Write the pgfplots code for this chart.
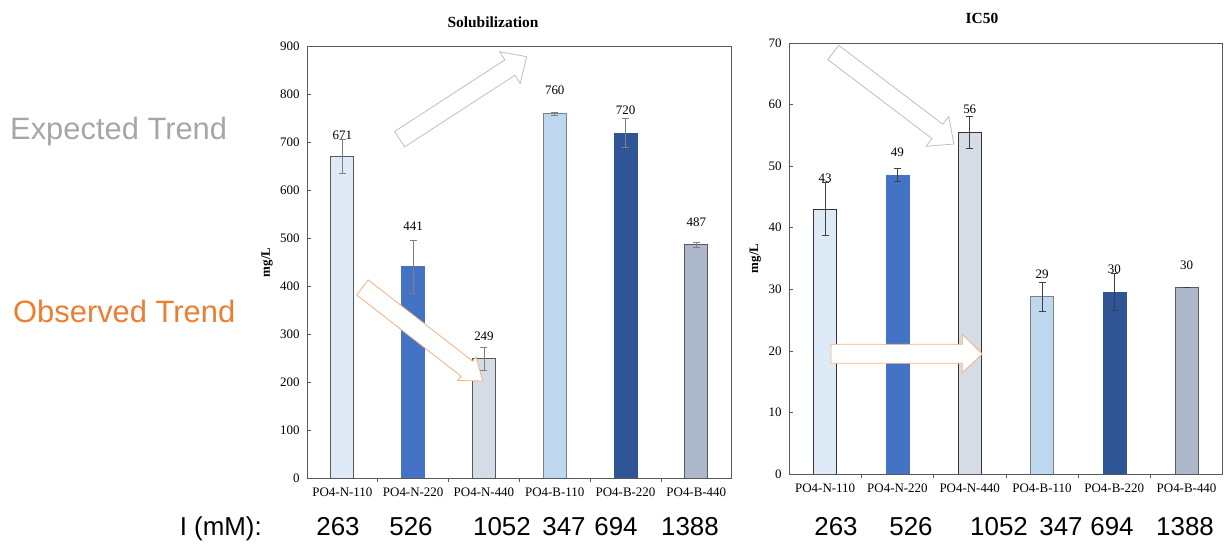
\documentclass[border=0pt]{standalone}
\usepackage{fontspec}
\setmainfont{Liberation Serif}
\newfontfamily\arial{Liberation Sans}
\usepackage{pgfplots}
\pgfplotsset{compat=1.18}
\definecolor{c1}{HTML}{DEEBF7}
\definecolor{c2}{HTML}{4472C4}
\definecolor{c3}{HTML}{D6DCE5}
\definecolor{c4}{HTML}{BDD7EE}
\definecolor{c5}{HTML}{2F5597}
\definecolor{c6}{HTML}{ADB9CA}
\definecolor{axgray}{HTML}{595959}
\definecolor{expgray}{HTML}{A6A6A6}
\definecolor{obsorange}{HTML}{ED7D31}
\definecolor{arrgray}{HTML}{BFBFBF}
\definecolor{arrorange}{HTML}{F4B183}
\tikzset{lab/.style={font=\fontsize{13}{15}\selectfont}}
\pgfplotsset{
  common/.style={
    scale only axis, anchor=south west,
    xmin=-0.5, xmax=5.5, ymin=0,
    xtick={0,...,5},
    xticklabels={PO4-N-110,PO4-N-220,PO4-N-440,PO4-B-110,PO4-B-220,PO4-B-440},
    minor xtick={0.5,1.5,2.5,3.5,4.5},
    major x tick style={draw=none},
    tick align=inside, tick pos=left,
    major tick length=4bp, minor tick length=4bp,
    tick style={draw=axgray, line width=0.6pt},
    axis line style={draw=axgray, line width=0.8pt},
    ybar, bar width=23bp, bar shift=0pt,
    /pgf/number format/assume math mode=true,
    tick label style={font=\fontsize{13}{15}\selectfont},
    y tick label style={xshift=-4bp},
    x tick label style={yshift=-2bp},
    ylabel={\textbf{mg/L}},
    title style={font=\bfseries\fontsize{15.5}{17}\selectfont, anchor=center},
  },
  eb/.style={error bars/.cd, y dir=both, y explicit,
    error bar style={draw=#1, line width=0.6pt},
    error mark options={rotate=90, draw=#1, line width=0.6pt, mark size=3.5bp}},
}
\begin{document}
\begin{tikzpicture}
\begin{scope}[shift={(0,550bp)}, x=1bp, y=-1bp]
\useasboundingbox (0,0) rectangle (1225,550);
\end{scope}

% Left chart
\begin{axis}[common,
  at={(307bp,72bp)}, width=424.7bp, height=431.3bp,
  ymax=900, ytick={0,100,...,900},
  title={Solubilization},
  title style={at={(axis description cs:0.438,1)}, yshift=18.7bp},
  every axis y label/.style={at={(axis description cs:-0.094,0.5)}, rotate=90, anchor=center, font=\fontsize{13}{15}\selectfont},
]
\addplot[fill=c1, draw=axgray, line width=0.8pt, eb=gray] coordinates {(0,671) +- (0,36)};
\addplot[fill=c2, draw=c2, eb=gray] coordinates {(1,441) +- (0,55)};
\addplot[fill=c3, draw=axgray, line width=0.8pt, eb=gray] coordinates {(2,249) +- (0,24)};
\addplot[fill=c4, draw=gray, line width=0.8pt, eb=gray] coordinates {(3,760) +- (0,4)};
\addplot[fill=c5, draw=c5, eb=gray] coordinates {(4,720) +- (0,30)};
\addplot[fill=c6, draw=axgray, line width=0.8pt, eb=gray] coordinates {(5,487) +- (0,5)};
\node[lab] at (axis cs:0,716) {671};
\node[lab] at (axis cs:1,526) {441};
\node[lab] at (axis cs:2,296) {249};
\node[lab] at (axis cs:3,809) {760};
\node[lab] at (axis cs:4,768) {720};
\node[lab] at (axis cs:5,534) {487};
\end{axis}

% Right chart
\begin{axis}[common,
  at={(789bp,76bp)}, width=433.7bp, height=431bp,
  ymax=70, ytick={0,10,...,70},
  title={IC50},
  title style={at={(axis description cs:0.445,1)}, yshift=19bp},
  every axis y label/.style={at={(axis description cs:-0.078,0.5)}, rotate=90, anchor=center, font=\fontsize{13}{15}\selectfont},
]
\addplot[fill=c1, draw=black!80, line width=0.8pt, eb=black!75] coordinates {(0,43.0) +- (0,4.3)};
\addplot[fill=c2, draw=c2, eb=black!75] coordinates {(1,48.6) +- (0,1.1)};
\addplot[fill=c3, draw=black!80, line width=0.8pt, eb=black!75] coordinates {(2,55.5) +- (0,2.65)};
\addplot[fill=c4, draw=gray, line width=0.8pt, eb=black!75] coordinates {(3,28.8) +- (0,2.4)};
\addplot[fill=c5, draw=c5, eb=black!75] coordinates {(4,29.6) +- (0,2.95)};
\addplot[fill=c6, draw=axgray, line width=0.8pt, eb=black!75] coordinates {(5,30.3) +- (0,0.05)};
\node[lab] at (axis cs:0,48.0) {43};
\node[lab] at (axis cs:1,52.2) {49};
\node[lab] at (axis cs:2,59.3) {56};
\node[lab] at (axis cs:3,32.5) {29};
\node[lab] at (axis cs:4,33.3) {30};
\node[lab] at (axis cs:5,33.9) {30};
\end{axis}

\begin{scope}[shift={(0,550bp)}, x=1bp, y=-1bp]
% arrows
\draw[arrgray, fill=white, line width=0.8pt, line join=miter]
  (404.6,146.9) -- (514.9,75.3) -- (520.2,83.5) -- (526.7,56.7) -- (499.6,51.7) -- (504.9,59.9) -- (394.6,131.5) -- cycle;
\draw[arrorange, fill=white, line width=0.8pt, line join=miter]
  (368.3,280.0) -- (472.7,361.2) -- (476.1,356.9) -- (482.7,381) -- (457.7,380.5) -- (461.1,376.2) -- (356.7,295.0) -- cycle;
\draw[arrgray, fill=white, line width=0.8pt, line join=miter]
  (838.7,45.3) -- (942.8,124.2) -- (948.7,116.5) -- (954,144) -- (926.1,146.3) -- (932,138.6) -- (827.9,59.7) -- cycle;
\draw[arrorange, fill=white, line width=0.8pt, line join=miter]
  (831,344.3) -- (962.3,344.3) -- (962.3,334.3) -- (982.3,354) -- (962.3,372.7) -- (962.3,363.3) -- (831,363.3) -- cycle;

% side texts
\node[anchor=base west, inner sep=0, text=expgray, font=\arial\fontsize{31}{36}\selectfont] at (10,140) {Expected Trend};
\node[anchor=base west, inner sep=0, text=obsorange, font=\arial\fontsize{31}{36}\selectfont] at (13,323) {Observed Trend};

% bottom row
\begin{scope}[every node/.style={anchor=base, inner sep=0, font=\arial\fontsize{26}{30}\selectfont}]
\node[anchor=base east] at (262,535.5) {I (mM):};
\node at (338,535.5) {263};
\node at (411,535.5) {526};
\node at (502,535.5) {1052};
\node at (564,535.5) {347};
\node at (616,535.5) {694};
\node at (690,535.5) {1388};
\node at (836,535.5) {263};
\node at (911,535.5) {526};
\node at (999,535.5) {1052};
\node at (1061,535.5) {347};
\node at (1112,535.5) {694};
\node at (1185,535.5) {1388};
\end{scope}
\end{scope}
\end{tikzpicture}
\end{document}
